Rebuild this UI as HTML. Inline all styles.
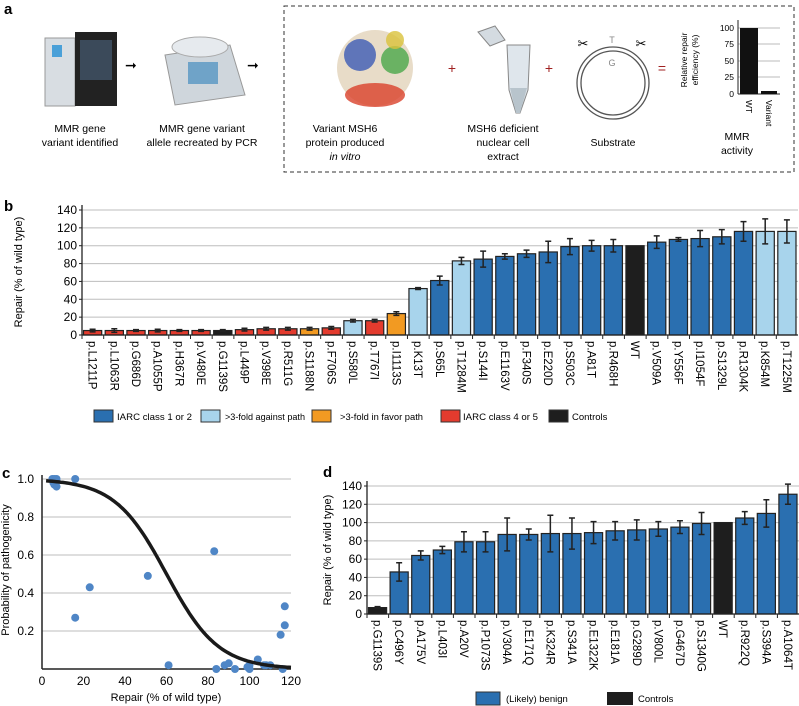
<!DOCTYPE html>
<html><head><meta charset="utf-8">
<style>
body{margin:0;background:#fff;}
svg{display:block;font-family:"Liberation Sans",Arial,sans-serif;}
</style></head>
<body>
<svg id="fig" width="799" height="706" viewBox="0 0 799 706" xmlns="http://www.w3.org/2000/svg">
<g>
<text x="4" y="14" font-size="15" font-weight="bold">a</text>
<g>
<rect x="45" y="38" width="30" height="68" fill="#d8dde2" stroke="#999"/>
<rect x="75" y="32" width="42" height="74" fill="#222"/>
<rect x="80" y="40" width="32" height="40" fill="#3b4a5a"/>
<rect x="52" y="45" width="10" height="12" fill="#4aa0d8"/>
</g>
<text x="125" y="70" font-size="14">➞</text>
<g>
<path d="M165 55 L230 45 L245 95 L175 105 Z" fill="#cfd6dc" stroke="#999"/>
<rect x="188" y="62" width="30" height="22" fill="#6fa3c8"/>
<ellipse cx="200" cy="47" rx="28" ry="10" fill="#e6eaee" stroke="#aaa"/>
</g>
<text x="247" y="70" font-size="14">➞</text>
<text font-size="10.5" text-anchor="middle"><tspan x="80" y="132">MMR gene</tspan><tspan x="80" y="146">variant identified</tspan></text>
<text font-size="10.5" text-anchor="middle"><tspan x="202" y="132">MMR gene variant</tspan><tspan x="202" y="146">allele recreated by PCR</tspan></text>
<rect x="284" y="6" width="510" height="166" fill="none" stroke="#333" stroke-dasharray="4,3"/>
<g>
<circle cx="375" cy="68" r="38" fill="#e8dcc8"/>
<circle cx="360" cy="55" r="16" fill="#3c5bb5" opacity=".8"/>
<circle cx="395" cy="60" r="14" fill="#4aa84a" opacity=".8"/>
<ellipse cx="375" cy="95" rx="30" ry="12" fill="#d9412b" opacity=".8"/>
<circle cx="395" cy="40" r="9" fill="#d9c23b" opacity=".8"/>
</g>
<text x="452" y="73" font-size="14" fill="#a02020" text-anchor="middle">+</text>
<g>
<path d="M507 45 L530 45 L528 90 L520 113 L516 113 L509 90 Z" fill="#dfe6ec" stroke="#888"/>
<path d="M510 88 L527 88 L520 113 L516 113 Z" fill="#b8c4cc"/>
<path d="M478 32 L495 26 L505 40 L490 46 Z" fill="#d4dbe1" stroke="#888"/>
</g>
<text x="549" y="73" font-size="14" fill="#a02020" text-anchor="middle">+</text>
<g>
<circle cx="613" cy="83" r="36" fill="none" stroke="#555" stroke-width="1.3"/>
<circle cx="613" cy="83" r="32" fill="none" stroke="#555" stroke-width="1.3"/>
<text x="612" y="43" font-size="9" fill="#888" text-anchor="middle">T</text>
<text x="612" y="66" font-size="9" fill="#888" text-anchor="middle">G</text>
<text x="583" y="48" font-size="13" text-anchor="middle">✂</text>
<text x="641" y="48" font-size="13" text-anchor="middle">✂</text>
</g>
<text x="662" y="73" font-size="14" fill="#a02020" text-anchor="middle">=</text>
<text font-size="10.5" text-anchor="middle"><tspan x="345" y="132">Variant MSH6</tspan><tspan x="345" y="146">protein produced</tspan><tspan x="345" y="160" font-style="italic">in vitro</tspan></text>
<text font-size="10.5" text-anchor="middle"><tspan x="503" y="132">MSH6 deficient</tspan><tspan x="503" y="146">nuclear cell</tspan><tspan x="503" y="160">extract</tspan></text>
<text x="613" y="146" font-size="10.5" text-anchor="middle">Substrate</text>
<g>
<line x1="738" y1="28" x2="780" y2="28" stroke="#bbb"/><line x1="738" y1="44" x2="780" y2="44" stroke="#bbb"/><line x1="738" y1="61" x2="780" y2="61" stroke="#bbb"/><line x1="738" y1="77" x2="780" y2="77" stroke="#bbb"/>
<line x1="738" y1="20" x2="738" y2="94" stroke="#222"/><line x1="738" y1="94" x2="780" y2="94" stroke="#222"/>
<rect x="740" y="28" width="18" height="66" fill="#111"/><rect x="761" y="91" width="16" height="3" fill="#111"/>
<g font-size="8.5" text-anchor="end"><text x="734" y="31">100</text><text x="734" y="47">75</text><text x="734" y="64">50</text><text x="734" y="80">25</text><text x="734" y="97">0</text></g>
<text transform="translate(687,60) rotate(-90)" font-size="8.5" text-anchor="middle">Relative repair</text>
<text transform="translate(698,60) rotate(-90)" font-size="8.5" text-anchor="middle">efficiency (%)</text>
<text transform="translate(746,100) rotate(90)" font-size="8.5">WT</text>
<text transform="translate(766,100) rotate(90)" font-size="8.5">Variant</text>
</g>
<text font-size="10.5" text-anchor="middle"><tspan x="737" y="140">MMR</tspan><tspan x="737" y="154">activity</tspan></text>
</g>

<g id="panelB">
<text x="4" y="211" font-size="15" font-weight="bold">b</text>
<text transform="translate(22,272) rotate(-90)" font-size="11" text-anchor="middle">Repair (% of wild type)</text>
</g>
<g>
<g><rect x="94" y="410" width="19" height="12" fill="#2a6fb0" stroke="#333"/><text x="117" y="420" font-size="9.5" textLength="75" lengthAdjust="spacingAndGlyphs">IARC class 1 or 2</text></g>
<g><rect x="201" y="410" width="19" height="12" fill="#a8d4ec" stroke="#333"/><text x="225" y="420" font-size="9.5" textLength="80" lengthAdjust="spacingAndGlyphs">&gt;3-fold against path</text></g>
<g><rect x="312" y="410" width="19" height="12" fill="#f29a22" stroke="#333"/><text x="340" y="420" font-size="9.5" textLength="83" lengthAdjust="spacingAndGlyphs">&gt;3-fold in favor path</text></g>
<g><rect x="441" y="410" width="19" height="12" fill="#e33b2e" stroke="#333"/><text x="463" y="420" font-size="9.5" textLength="75" lengthAdjust="spacingAndGlyphs">IARC class 4 or 5</text></g>
<g><rect x="549" y="410" width="19" height="12" fill="#1e1e1e" stroke="#333"/><text x="572" y="420" font-size="9.5">Controls</text></g>
</g>

<g id="panelC">
<text x="2" y="478" font-size="15" font-weight="bold">c</text>
<text transform="translate(9,570) rotate(-90)" font-size="11" text-anchor="middle">Probability of pathogenicity</text>
<text x="166" y="701" font-size="11" text-anchor="middle">Repair (% of wild type)</text>
</g>

<g id="panelD">
<text x="323" y="477" font-size="15" font-weight="bold">d</text>
<text transform="translate(331,550) rotate(-90)" font-size="11" text-anchor="middle">Repair (% of wild type)</text>
</g>
<g>
<g><rect x="476" y="692" width="24" height="13" fill="#2a6fb0" stroke="#333"/><text x="506" y="702" font-size="9.5">(Likely) benign</text></g>
<g><rect x="607" y="692" width="26" height="13" fill="#1e1e1e"/><text x="638" y="702" font-size="9.5">Controls</text></g>
</g>
</svg>
<script>
const NS="http://www.w3.org/2000/svg";
const bCats=["p.L1211P","p.L1063R","p.G686D","p.A1055P","p.H367R","p.V480E","p.G1139S","p.L449P","p.V398E","p.R511G","p.S1188N","p.F706S","p.S580L","p.T767I","p.I1113S","p.K13T","p.S65L","p.T1284M","p.S144I","p.E1163V","p.F340S","p.E220D","p.S503C","p.A81T","p.R468H","WT","p.V509A","p.Y556F","p.I1054F","p.S1329L","p.R1304K","p.K854M","p.T1225M"];
const bVals=[5,5,5,5,5,5,5,6,7,7,7,8,16,16,24,52,61,83,85,88,91,93,99,100,100,100,104,107,108,110,116,116,116];
const bErrs=[1.5,2,1,1.5,1,1,1,1.5,1.5,1.5,1.5,1.5,1.5,1.5,2,1,5,4,9,3,4,12,9,6,7,0,7,2,9,8,11,14,13];
const bClass=["r","r","r","r","r","r","k","r","r","r","o","r","l","r","o","l","d","l","d","d","d","d","d","d","d","k","d","d","d","d","d","l","l"];
const bTicks=[0,20,40,60,80,100,120,140];
const cX=[5,6,7,5.5,6,7,6.5,16,16,23,51,61,83,84,88,90,93,99,100,100,104,107,108,110,115,116,117,117];
const cY=[1.0,1.0,1.0,0.98,0.97,0.96,0.99,1.0,0.27,0.43,0.49,0.02,0.62,0.0,0.02,0.03,0.0,0.01,0.02,0.0,0.05,0.02,0.02,0.02,0.18,0.0,0.23,0.33];
const cXTicks=[0,20,40,60,80,100,120];
const cYTicks=[0.2,0.4,0.6,0.8,1.0];
const cFitMid=[60];
const cFitScale=[12.5];
const dCats=["p.G1139S","p.C496Y","p.A175V","p.L403I","p.A20V","p.P1073S","p.V304A","p.E171Q","p.K324R","p.S341A","p.E1322K","p.E181A","p.G289D","p.V800L","p.G467D","p.S1340G","WT","p.R922Q","p.S394A","p.A1064T"];
const dVals=[7,46,64,70,79,79,87,87,88,88,89,91,92,93,95,99,100,105,110,131];
const dErrs=[1,10,5,4,11,11,18,6,20,17,12,10,11,8,7,12,0,7,15,11];
const dClass=["k","d","d","d","d","d","d","d","d","d","d","d","d","d","d","d","k","d","d","d"];
const dTicks=[0,20,40,60,80,100,120,140];
const COL={r:"#e33b2e",k:"#1e1e1e",o:"#f29a22",l:"#a8d4ec",d:"#2a6fb0"};

function mk(tag,attrs,parent){const e=document.createElementNS(NS,tag);for(const k in attrs)e.setAttribute(k,attrs[k]);parent.appendChild(e);return e;}

function barChart(g,cats,vals,errs,cls,ticks,X0,X1,Y0,pxPer,prefix,labelFont){
  const yS=v=>Y0-v*pxPer;
  const pitch=(X1-X0)/cats.length;
  ticks.forEach(t=>{
    if(t>0){const gl=mk("line",{x1:X0,x2:X1,y1:yS(t),y2:yS(t),stroke:"#bdbdbd"},g);
    
    }
    const tl=mk("text",{x:X0-5,y:yS(t)+4,"font-size":12,"text-anchor":"end"},g);tl.textContent=t;
    
    
    mk("line",{x1:X0-3,x2:X0,y1:yS(t),y2:yS(t),stroke:"#222"},g);
  });
  cats.forEach((c,i)=>{
    const x=X0+i*pitch+1.5,w=pitch-3.5;
    const r=mk("rect",{x:x,y:yS(vals[i]),width:w,height:vals[i]*pxPer,fill:COL[cls[i]],stroke:"#222","stroke-width":1.2},g);
    
    
    const cx=x+w/2;
    if(errs[i]>0){
      const e=mk("path",{d:`M${cx} ${yS(vals[i]+errs[i])}V${yS(vals[i]-errs[i])}M${cx-3} ${yS(vals[i]+errs[i])}h6M${cx-3} ${yS(vals[i]-errs[i])}h6`,stroke:"#222","stroke-width":1.5,fill:"none"},g);
      
      
    }
    mk("line",{x1:X0+i*pitch,x2:X0+i*pitch,y1:Y0,y2:Y0+4,stroke:"#222"},g);
    const t=mk("text",{transform:`translate(${cx-4},${Y0+6}) rotate(90)`,"font-size":labelFont},g);t.textContent=c;
    
    
  });
  mk("line",{x1:X0,x2:X0,y1:yS(ticks[ticks.length-1])-5,y2:Y0,stroke:"#222","stroke-width":1.3},g);
  mk("line",{x1:X0,x2:X1,y1:Y0,y2:Y0,stroke:"#222","stroke-width":1.3},g);
}
barChart(document.getElementById("panelB"),bCats,bVals,bErrs,bClass,bTicks,82,798,335,125/140,"b","11.5");
barChart(document.getElementById("panelD"),dCats,dVals,dErrs,dClass,dTicks,367,799,614,128/140,"d","11.5");

(function(){
  const g=document.getElementById("panelC");
  const X0=42,X1=291,Y0=669;
  const xS=v=>X0+v*(X1-X0)/120, yS=v=>Y0-v*190;
  cYTicks.forEach(t=>{
    const gl=mk("line",{x1:X0,x2:X1,y1:yS(t),y2:yS(t),stroke:"#bdbdbd"},g);
    
    
    const tl=mk("text",{x:X0-8,y:yS(t)+4,"font-size":12,"text-anchor":"end"},g);tl.textContent=t.toFixed(1);
    
    
  });
  cXTicks.forEach(t=>{
    const tl=mk("text",{x:xS(t),y:Y0+16,"font-size":12,"text-anchor":"middle"},g);tl.textContent=t;
    
    
  });
  mk("line",{x1:X0,x2:X0,y1:yS(1.0)-4,y2:Y0,stroke:"#222","stroke-width":1.5},g);
  mk("line",{x1:X0,x2:X1,y1:Y0,y2:Y0,stroke:"#222","stroke-width":1.5},g);
  cX.forEach((x,i)=>{
    const c=mk("circle",{cx:xS(x),cy:yS(cY[i]),r:4,fill:"#4f86c6"},g);
    
    
  });
  let d="";
  for(let x=2;x<=120;x+=1){const p=1/(1+Math.exp((x-cFitMid[0])/cFitScale[0]));d+=(x===2?"M":"L")+xS(x).toFixed(1)+" "+yS(p).toFixed(1);}
  const cv=mk("path",{d:d,stroke:"#1a1a1a","stroke-width":3.5,fill:"none"},g);
  
  
})();
</script>
</body></html>
